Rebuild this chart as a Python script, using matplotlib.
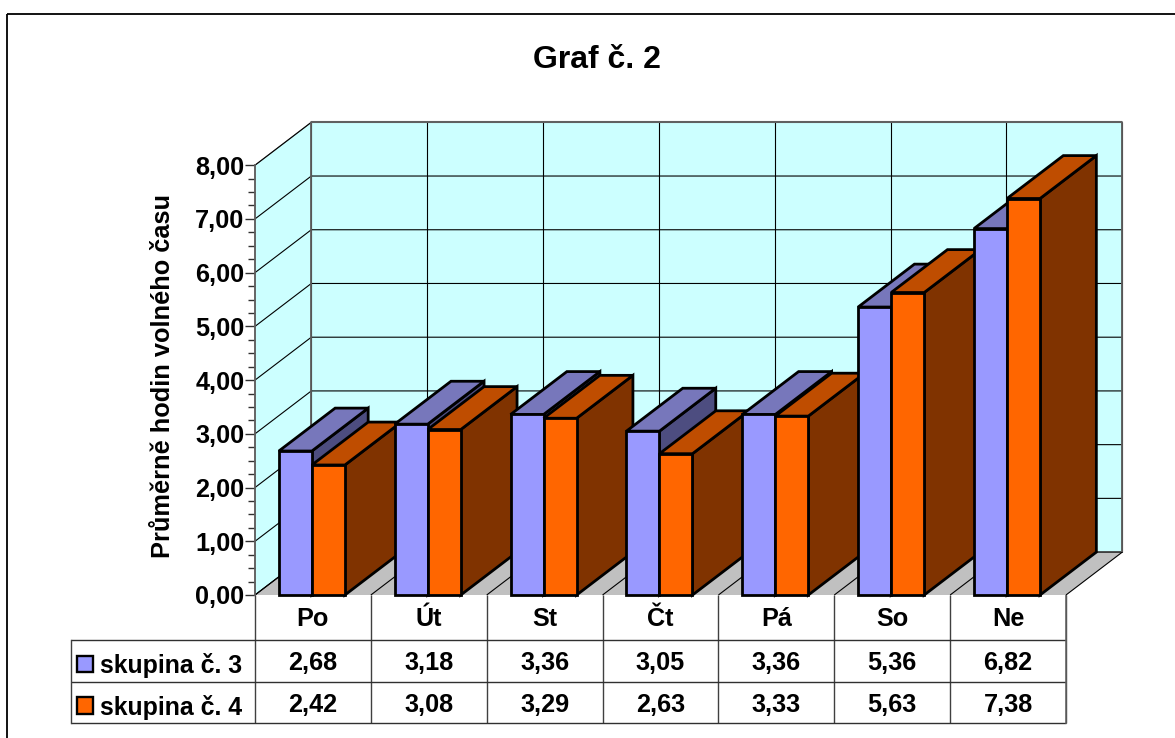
import numpy as np
import matplotlib
matplotlib.use("Agg")
import matplotlib.pyplot as plt
from matplotlib.patches import Polygon, Rectangle
from matplotlib.ticker import MultipleLocator, FuncFormatter

plt.rcParams['font.family'] = ['Liberation Sans', 'DejaVu Sans']
plt.rcParams['font.weight'] = 'bold'

# data
days = ["Po", "Út", "St", "Čt", "Pá", "So", "Ne"]
skupina_3 = [2.68, 3.18, 3.36, 3.05, 3.36, 5.36, 6.82]
skupina_4 = [2.42, 3.08, 3.29, 2.63, 3.33, 5.63, 7.38]
series_names = ["skupina č. 3", "skupina č. 4"]
y_ticks = [0, 1, 2, 3, 4, 5, 6, 7, 8]

W, H = 1175, 738
# colours: front, top, side
purple = ("#9999FF", "#7777BB", "#4D4D80")
orange = ("#FF6600", "#BF4D00", "#803300")

# front plane of the chart in pixels
left_px, right_px = 255, 1066
bottom_px, top_px = 595, 165.2
n = len(days)

fig = plt.figure(figsize=(W / 100, H / 100), dpi=100)

# overlay in pixel coords for frame, title and table
bg = fig.add_axes([0, 0, 1, 1])
bg.set_xlim(0, W)
bg.set_ylim(H, 0)
bg.axis("off")

ax = fig.add_axes([left_px / W, 1 - bottom_px / H,
                   (right_px - left_px) / W, (bottom_px - top_px) / H])
ax.set_xlim(0, n)
ax.set_ylim(0, 8)
ax.patch.set_visible(False)

# depth of the 3d box, in data units
dx = 56.3 / ((right_px - left_px) / n)
dy = 42.9 / ((bottom_px - top_px) / 8)
margin = 0.206
bar_w = 0.285


def poly(pts, fc, ec="black", lw=0.8, z=1):
    ax.add_patch(Polygon(pts, closed=True, facecolor=fc, edgecolor=ec, linewidth=lw,
                         zorder=z, clip_on=False, joinstyle="miter"))


def line(xs, ys, color="black", lw=0.8, z=2):
    ax.plot(xs, ys, color=color, lw=lw, zorder=z, clip_on=False, solid_capstyle="butt")


# walls and floor
poly([(dx, dy), (n + dx, dy), (n + dx, 8 + dy), (dx, 8 + dy)], "#CCFFFF", "#808080", 1.1)
poly([(0, 0), (dx, dy), (dx, 8 + dy), (0, 8)], "#CCFFFF", "#808080", 0.8)
poly([(0, 0), (n, 0), (n + dx, dy), (dx, dy)], "#C0C0C0", "none", 0)

# grid on the walls
for v in y_ticks:
    line([0, dx, n + dx], [v, v + dy, v + dy])
for i in range(n + 1):
    line([i + dx, i + dx], [dy, 8 + dy], lw=0.8)
    line([i, i + dx], [0, dy])
line([dx, dx], [dy, 8 + dy], color="#606060", lw=1.3)
line([n + dx, n + dx], [dy, 8 + dy], color="#606060", lw=1.3)
line([dx, n + dx], [8 + dy, 8 + dy], color="#606060", lw=1.5)


def bar3d(x0, v, colors, z):
    x1 = x0 + bar_w
    lw = 2.0
    poly([(x1, 0), (x1 + dx, dy), (x1 + dx, v + dy), (x1, v)], colors[2], lw=lw, z=z)
    poly([(x0, v), (x1, v), (x1 + dx, v + dy), (x0 + dx, v + dy)], colors[1], lw=lw, z=z)
    poly([(x0, 0), (x1, 0), (x1, v), (x0, v)], colors[0], lw=lw, z=z)


z = 3
for i in range(n):
    bar3d(i + margin, skupina_3[i], purple, z)
    bar3d(i + margin + bar_w, skupina_4[i], orange, z + 1)
    z += 2

# value axis
for s in ["top", "right", "bottom"]:
    ax.spines[s].set_visible(False)
ax.spines["left"].set_color("#606060")
ax.spines["left"].set_linewidth(1.3)
ax.spines["left"].set_zorder(20)
ax.xaxis.set_visible(False)
ax.set_yticks(y_ticks)
ax.yaxis.set_minor_locator(MultipleLocator(0.25))
ax.yaxis.set_major_formatter(FuncFormatter(lambda v, p: f"{v:.2f}".replace(".", ",")))
ax.tick_params(axis="y", which="major", length=7.2, width=1, color="#303030",
               labelsize=18.2, pad=0.5)
ax.tick_params(axis="y", which="minor", length=5, width=1, color="#303030")
ax.set_ylabel("Průměrně hodin volného času", fontsize=18.3, fontweight="bold", labelpad=0)
ax.yaxis.set_label_coords((175.5 - left_px) / (right_px - left_px), 0.5 + 0.01)

# frame and title (no right edge, it runs off the picture)
bg.plot([7, 7], [H, 14], color="black", lw=1.3, solid_capstyle="butt")
bg.plot([7, W], [14, 14], color="black", lw=1.3, solid_capstyle="butt")
bg.text(596.5, 59.5, "Graf č. 2", fontsize=23, fontweight="bold", ha="center", va="center")

# data table under the bars
col_w = (right_px - left_px) / n
col_x = [left_px + i * col_w for i in range(n + 1)]
row_y = [595, 640, 681.5, 723]
table_left = 70.5
for x in col_x:
    bg.plot([x, x], [row_y[0], row_y[3]], color="#404040", lw=1, solid_capstyle="butt")
for j, y in enumerate(row_y[1:]):
    bg.plot([table_left, right_px], [y, y], color="#303030", lw=1, solid_capstyle="butt")
bg.plot([table_left, table_left], [row_y[1], row_y[3]], color="#404040", lw=1)
bg.plot([right_px, right_px], [row_y[0], row_y[3]], color="#606060", lw=1.1)

for i in range(n):
    cx = col_x[i] + col_w / 2
    bg.text(cx, 619.5, days[i], fontsize=18.2, ha="center", va="center")
    bg.text(cx, 662.5, f"{skupina_3[i]:.2f}".replace(".", ","), fontsize=18.2, ha="center", va="center")
    bg.text(cx, 704.5, f"{skupina_4[i]:.2f}".replace(".", ","), fontsize=18.2, ha="center", va="center")

for name, y, c in zip(series_names, [663.5, 705], [purple[0], orange[0]]):
    bg.add_patch(Rectangle((76.5, y - 8), 16.5, 16.5, facecolor=c, edgecolor="black", linewidth=1.7))
    bg.text(100, y + 2.5, name, fontsize=17.9, ha="left", va="center")

fig.savefig("out.png", dpi=100)
